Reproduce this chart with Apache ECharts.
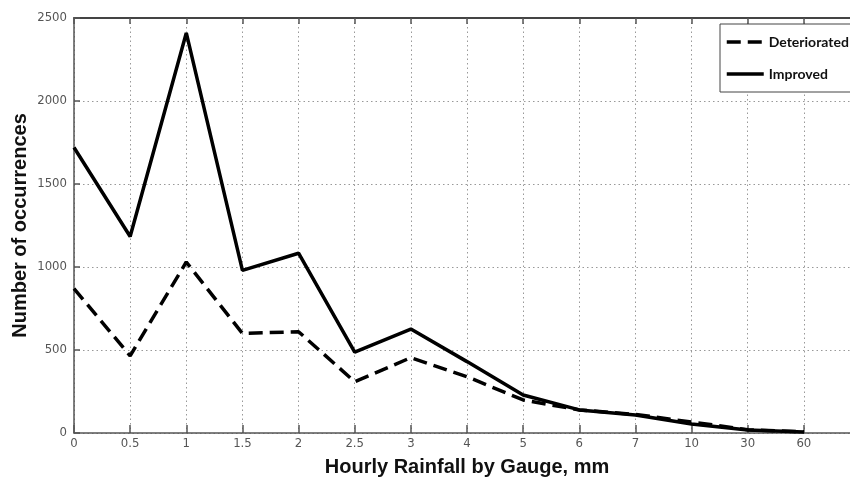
<!DOCTYPE html>
<html>
<head>
<meta charset="utf-8">
<script src="https://cdn.jsdelivr.net/npm/echarts@6/dist/echarts.min.js"></script>
<style>
  html, body { margin: 0; padding: 0; background: #fff; }
  #chart { width: 850px; height: 480px; }
</style>
</head>
<body>
<div id="chart"></div>
<script>
// Rainfall bins (mm per hour), one slot per category
const rainfallBins = ['0', '0.5', '1', '1.5', '2', '2.5', '3', '4', '5', '6', '7', '10', '30', '60'];
// Count of occurrences per bin
const improved     = [1720, 1184, 2410, 980, 1083, 487, 626, 430, 229, 139, 108, 54, 18, 6];
const deteriorated = [870, 465, 1030, 600, 610, 309, 454, 339, 199, 139, 112, 66, 20, 8];
const yTicks = { min: 0, max: 2500, interval: 500 };

// one spare slot on the right so the frame runs past the last bin
const categories = rainfallBins.concat(['']);

const tickFont = '"DejaVu Sans Condensed", "Liberation Sans Narrow", Arial, sans-serif';
const titleFont = '"Liberation Sans", Arial, sans-serif';
const legendFont = 'Lato, "Open Sans", sans-serif';

const chart = echarts.init(document.getElementById('chart'), null, { renderer: 'canvas' });

chart.setOption({
  animation: false,
  backgroundColor: '#fff',
  grid: { left: 74, top: 18, width: 786, height: 415, containLabel: false, outerBoundsMode: 'none' },
  legend: {
    orient: 'vertical',
    left: 720,
    top: 24,
    padding: [11, 30, 11, 5],
    itemWidth: 37,
    itemHeight: 14,
    itemGap: 18,
    // keep only the line sample in each legend entry
    itemStyle: { opacity: 0 },
    lineStyle: { width: 3.5 },
    backgroundColor: '#fff',
    borderColor: '#444',
    borderWidth: 1,
    borderRadius: 0,
    textStyle: { fontFamily: legendFont, fontWeight: 'bold', fontSize: 14, color: '#111' },
    data: ['Deteriorated', 'Improved']
  },
  xAxis: [
    {
      type: 'category',
      data: categories,
      boundaryGap: false,
      position: 'bottom',
      name: 'Hourly Rainfall by Gauge, mm',
      nameLocation: 'middle',
      nameGap: 24,
      nameTextStyle: { fontFamily: titleFont, fontSize: 20, fontWeight: 'bold', color: '#111' },
      axisLine: { onZero: false, lineStyle: { color: '#555', width: 1.5 } },
      axisTick: { inside: true, length: 8, alignWithLabel: true, lineStyle: { color: '#555', width: 1.5 } },
      axisLabel: { fontFamily: tickFont, fontSize: 13, color: '#555', margin: 4, interval: 0 },
      splitLine: { show: true, lineStyle: { color: '#999', type: [1.5, 3], width: 1 } }
    },
    {
      type: 'category',
      data: categories,
      boundaryGap: false,
      position: 'top',
      axisLine: { onZero: false, lineStyle: { color: '#444', width: 2 } },
      axisTick: { inside: true, length: 6, lineStyle: { color: '#555', width: 1.5 } },
      axisLabel: { show: false },
      splitLine: { show: false }
    }
  ],
  yAxis: {
    type: 'value',
    min: yTicks.min,
    max: yTicks.max,
    interval: yTicks.interval,
    name: 'Number of occurrences',
    nameLocation: 'middle',
    nameGap: 44,
    nameMoveOverlap: false,
    nameTextStyle: { fontFamily: titleFont, fontSize: 20, fontWeight: 'bold', color: '#111' },
    axisLine: { show: true, lineStyle: { color: '#555', width: 1.5 } },
    axisTick: { show: true, inside: true, length: 6, lineStyle: { color: '#555', width: 1.5 } },
    axisLabel: { fontFamily: tickFont, fontSize: 13, color: '#555', margin: 7, formatter: v => String(v) },
    splitLine: { show: true, lineStyle: { color: '#999', type: [1.5, 3], width: 1 } }
  },
  series: [
    {
      name: 'Deteriorated',
      type: 'line',
      data: deteriorated,
      symbol: 'none',
      color: '#000',
      lineStyle: { color: '#000', width: 3.5, type: [14, 7] },
      z: 3
    },
    {
      name: 'Improved',
      type: 'line',
      data: improved,
      symbol: 'none',
      color: '#000',
      lineStyle: { color: '#000', width: 3.5, type: 'solid' },
      z: 4
    }
  ]
});
</script>
</body>
</html>
